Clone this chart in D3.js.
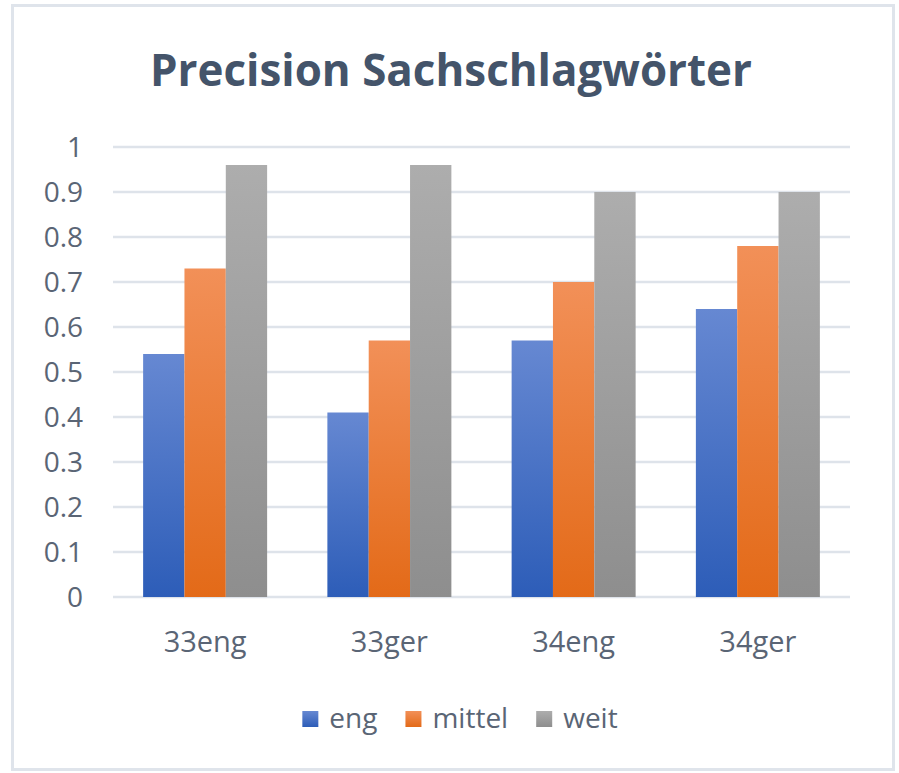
<!DOCTYPE html>
<html><head><meta charset="utf-8">
<script src="https://cdn.jsdelivr.net/npm/d3@7"></script>
<style>body{margin:0;background:#fff;}svg{display:block;}text{font-family:"Open Sans",sans-serif;}</style>
</head><body>
<svg id="chart" width="899" height="773"></svg>
<script>
const categories = ["33eng", "33ger", "34eng", "34ger"];
const seriesNames = ["eng", "mittel", "weit"];
const engValues = [0.54, 0.41, 0.57, 0.64];
const mittelValues = [0.73, 0.57, 0.70, 0.78];
const weitValues = [0.96, 0.96, 0.90, 0.90];
const yTicks = [0, 0.1, 0.2, 0.3, 0.4, 0.5, 0.6, 0.7, 0.8, 0.9, 1];
const titleText = "Precision Sachschlagwörter";

const seriesValues = {eng: engValues, mittel: mittelValues, weit: weitValues};
const gradStops = {eng: ["#6688d2", "#2d5db8"], mittel: ["#f29058", "#e36a18"], weit: ["#adadad", "#8e8e8e"]};

const svg = d3.select("#chart");
svg.append("rect").attr("x", 12.5).attr("y", 5.5).attr("width", 881).attr("height", 764)
  .attr("fill", "#fff").attr("stroke", "#dfe4eb").attr("stroke-width", 3);

const defs = svg.append("defs");
seriesNames.forEach(s => {
  const g = defs.append("linearGradient").attr("id", "g-" + s).attr("x1", 0).attr("y1", 0).attr("x2", 0).attr("y2", 1);
  g.append("stop").attr("offset", "0%").attr("stop-color", gradStops[s][0]);
  g.append("stop").attr("offset", "100%").attr("stop-color", gradStops[s][1]);
});

const y = d3.scaleLinear().domain([0, 1]).range([597, 147]);
const x0 = d3.scaleBand().domain(categories).range([113, 850]).paddingInner(0.327).paddingOuter(0.1635);
const x1 = d3.scaleBand().domain(seriesNames).range([0, x0.bandwidth()]);

// gridlines
svg.append("g").selectAll("line").data(yTicks).join("line")
  .attr("x1", 113).attr("x2", 850).attr("y1", d => y(d)).attr("y2", d => y(d))
  .attr("stroke", "#dee3ea").attr("stroke-width", 2.5);

// y labels
svg.append("g").selectAll("text").data(yTicks).join("text")
  .attr("x", 83).attr("y", d => y(d)).attr("dy", "0.36em").attr("text-anchor", "end")
  .attr("font-size", 28).attr("fill", "#5a6575").text(d => d3.format("")(d));

// bars
const rows = categories.map((c, i) => ({cat: c, vals: seriesNames.map(s => ({s, v: seriesValues[s][i]}))}));
const groups = svg.append("g").selectAll("g").data(rows).join("g")
  .attr("transform", d => `translate(${x0(d.cat)},0)`);
groups.selectAll("rect").data(d => d.vals).join("rect")
  .attr("x", d => x1(d.s)).attr("width", x1.bandwidth())
  .attr("y", d => y(d.v)).attr("height", d => y(0) - y(d.v))
  .attr("fill", d => `url(#g-${d.s})`);

// x labels
svg.append("g").selectAll("text").data(categories).join("text")
  .attr("x", d => x0(d) + x0.bandwidth() / 2).attr("y", 652).attr("text-anchor", "middle")
  .attr("font-size", 29).attr("fill", "#5a6575").text(d => d);

// title
svg.append("text").attr("x", 451).attr("y", 86).attr("text-anchor", "middle")
  .attr("font-size", 44).attr("font-weight", "bold").attr("fill", "#44546a")
  .attr("textLength", 602).attr("lengthAdjust", "spacingAndGlyphs").text(titleText);

// legend
const leg = svg.append("g");
const items = leg.selectAll("g").data(seriesNames).join("g");
items.append("rect").attr("width", 16).attr("height", 16).attr("y", 711)
  .attr("fill", d => `url(#g-${d})`);
items.append("text").attr("x", 27).attr("y", 728).attr("font-size", 28).attr("fill", "#5a6575").text(d => d);
let widths = [];
items.each(function() { widths.push(27 + d3.select(this).select("text").node().getComputedTextLength()); });
const gap = 28;
const total = d3.sum(widths) + gap * (widths.length - 1);
let cx = 460 - total / 2;
items.attr("transform", (d, i) => { const t = `translate(${cx},0)`; cx += widths[i] + gap; return t; });
</script>
</body></html>
